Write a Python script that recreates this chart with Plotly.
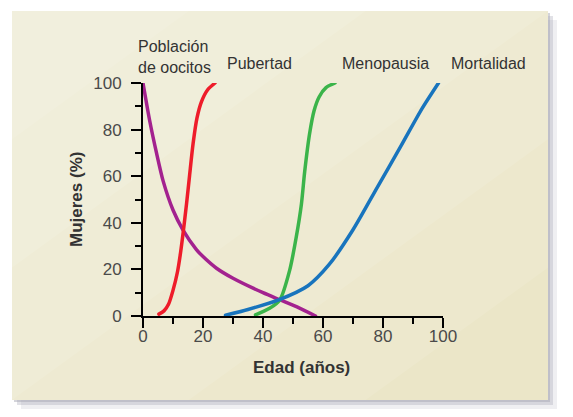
import plotly.graph_objects as go

# curves (age in years, % of women)
oocitos_x = [0, 2.2, 4.5, 6.7, 10, 13.3, 17.8, 20, 24.5, 30, 40, 45.5, 52, 57.5]
oocitos_y = [100, 84, 70, 58, 45.5, 37, 28.5, 25.5, 20.5, 16.2, 10, 7, 3.5, 0]

pubertad_x = [5.3, 7, 8.5, 10, 11.5, 12.5, 13.5, 14.5, 15.5, 16.7, 18, 19.5, 21.5, 24]
pubertad_y = [0.8, 2.2, 5, 11, 19, 27, 37, 48, 60, 74, 85, 92, 97, 100]

menopausia_x = [37.5, 42.2, 45.6, 48.9, 51.1, 52.8, 53.9, 55.5, 57, 58.7, 61, 64]
menopausia_y = [0.5, 3.3, 6.9, 19.7, 34, 48, 62, 78, 88, 94, 98, 100]

mortalidad_x = [27.5, 35, 45, 55, 62, 70, 78, 86, 93, 98.5]
mortalidad_y = [0.3, 2.8, 6.8, 13, 22, 37, 55, 73, 89, 100]

curve_labels = ['Población<br>de oocitos', 'Pubertad', 'Menopausia', 'Mortalidad']
tick_vals = [0, 20, 40, 60, 80, 100]

W, H = 573, 417
L, R, T, B = 143, 130, 83, 101   # plot area 143..443 x 83..316 px


def px(x, y):
    # pixel -> paper coords
    return (x - L) / (W - L - R), (H - B - y) / (H - T - B)


fig = go.Figure()

series = [
    (oocitos_x, oocitos_y, '#a3228f'),
    (pubertad_x, pubertad_y, '#ee1c2a'),
    (menopausia_x, menopausia_y, '#3bb44a'),
    (mortalidad_x, mortalidad_y, '#1874bd'),
]
for xs, ys, col in series:
    fig.add_trace(go.Scatter(x=xs, y=ys, mode='lines', cliponaxis=False,
                             line=dict(color=col, width=3.5, shape='spline', smoothing=0.7),
                             showlegend=False, hoverinfo='skip'))

shapes = []
# soft shadow
for off, op in [(2, 0.5), (5, 0.35), (9, 0.18)]:
    x0, y0 = px(12 + off, 11 + off)
    x1, y1 = px(548 + off, 400 + off)
    shapes.append(dict(type='rect', xref='paper', yref='paper', x0=x0, y0=y1, x1=x1, y1=y0,
                       fillcolor='#a9a9b6', opacity=op, line_width=0, layer='below'))

# panel
px0, py0, px1, py1 = 12, 11, 548, 400
x0, y0 = px(px0, py0)
x1, y1 = px(px1, py1)
shapes.append(dict(type='rect', xref='paper', yref='paper', x0=x0, y0=y1, x1=x1, y1=y0,
                   fillcolor='#e9e4c2', line_width=0, layer='below'))

# diagonal light gradient from the top-left corner
pw, ph = px1 - px0, py1 - py0
for k in [0.33, 0.66, 1.0, 1.33, 1.66, 2.0]:
    if k <= 1:
        pts = [(0, 0), (k * pw, 0), (0, k * ph)]
    else:
        pts = [(0, 0), (pw, 0), (pw, (k - 1) * ph), ((k - 1) * pw, ph), (0, ph)]
    path = ''
    for i, (u, v) in enumerate(pts):
        a, b = px(px0 + u, py0 + v)
        path += ('M' if i == 0 else 'L') + f'{a},{b} '
    shapes.append(dict(type='path', xref='paper', yref='paper', path=path + 'Z',
                       fillcolor='white', opacity=0.1, line_width=0, layer='below'))

fig.update_layout(shapes=shapes)

axis_style = dict(range=[0, 100], showgrid=False, zeroline=False, showline=True,
                  linecolor='black', linewidth=2, ticks='outside', ticklen=10,
                  tickwidth=2, tickcolor='black', tickvals=tick_vals,
                  tickfont=dict(size=17, color='#4a4a4a'),
                  minor=dict(ticks='outside', ticklen=6, tickwidth=2,
                             tickcolor='black', dtick=10))
fig.update_xaxes(ticklabelstandoff=-6, **axis_style)
fig.update_yaxes(ticklabelstandoff=6, **axis_style)

ann = dict(showarrow=False, xref='paper', yref='paper', xanchor='left', yanchor='middle',
           font=dict(size=16, color='#333333'))
for text, (lx, ly) in zip(curve_labels, [(136, 57), (225, 64), (340, 64), (449, 64)]):
    ax_, ay_ = px(lx, ly)
    fig.add_annotation(text=text, x=ax_, y=ay_, align='left', **ann)

tx, ty = px(301, 367)
fig.add_annotation(text='<b>Edad (años)</b>', x=tx, y=ty, xref='paper', yref='paper',
                   xanchor='center', yanchor='middle',
                   showarrow=False, font=dict(size=17, color='#333333'))
tx, ty = px(76, 200)
fig.add_annotation(text='<b>Mujeres (%)</b>', x=tx, y=ty, xref='paper', yref='paper',
                   xanchor='center', yanchor='middle',
                   textangle=-90, showarrow=False, font=dict(size=17, color='#333333'))

fig.update_layout(width=W, height=H, margin=dict(l=L, r=R, t=T, b=B),
                  paper_bgcolor='white', plot_bgcolor='rgba(0,0,0,0)',
                  font=dict(family='Liberation Sans, Arial, sans-serif'))

fig.write_html('out.html', config={'displayModeBar': False},
               post_script="document.body.style.margin='0';"
                           "document.querySelectorAll('.scatterlayer path.js-line')"
                           ".forEach(function(p){p.style.strokeLinecap='round';});")
